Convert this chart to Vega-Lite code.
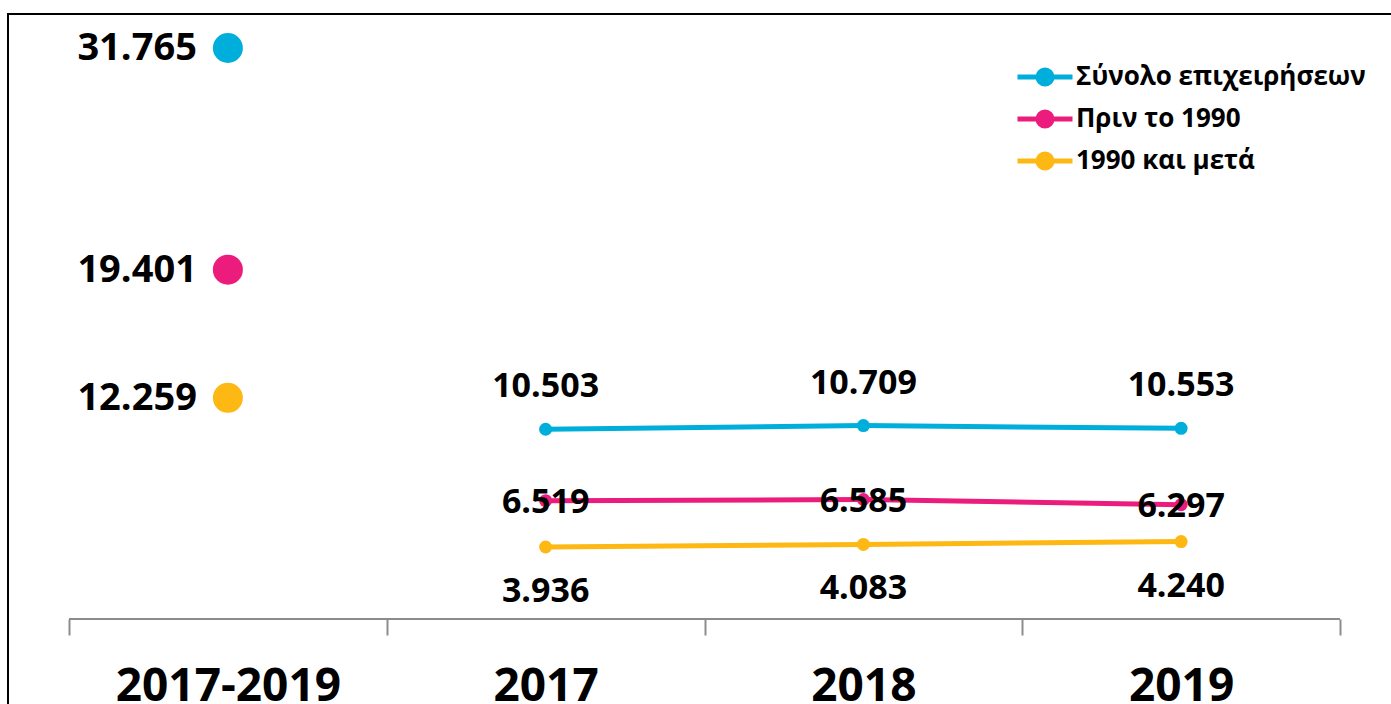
{
  "$schema": "https://vega.github.io/schema/vega-lite/v6.json",
  "width": 1393,
  "height": 706,
  "padding": {"left": 8, "top": 14, "right": 0, "bottom": 0},
  "autosize": {"type": "none"},
  "background": "white",
  "config": {
    "locale": {"number": {"decimal": ",", "thousands": ".", "grouping": [3], "currency": ["", " €"]}},
    "font": "Open Sans",
    "view": {"stroke": "black", "strokeWidth": 2}
  },
  "data": {
    "values": [
      {"period": "2017-2019", "series": "Σύνολο επιχειρήσεων", "value": 31765},
      {"period": "2017-2019", "series": "Πριν το 1990", "value": 19401},
      {"period": "2017-2019", "series": "1990 και μετά", "value": 12259},
      {"period": "2017", "series": "Σύνολο επιχειρήσεων", "value": 10503},
      {"period": "2018", "series": "Σύνολο επιχειρήσεων", "value": 10709},
      {"period": "2019", "series": "Σύνολο επιχειρήσεων", "value": 10553},
      {"period": "2017", "series": "Πριν το 1990", "value": 6519},
      {"period": "2018", "series": "Πριν το 1990", "value": 6585},
      {"period": "2019", "series": "Πριν το 1990", "value": 6297},
      {"period": "2017", "series": "1990 και μετά", "value": 3936},
      {"period": "2018", "series": "1990 και μετά", "value": 4083},
      {"period": "2019", "series": "1990 και μετά", "value": 4240}
    ]
  },
  "encoding": {
    "x": {
      "field": "period",
      "type": "nominal",
      "sort": ["2017-2019", "2017", "2018", "2019"],
      "scale": {"type": "band", "paddingInner": 0, "paddingOuter": 0.192},
      "axis": {
        "title": null,
        "labelAngle": 0,
        "labelFontSize": 46,
        "labelFontWeight": "bold",
        "labelColor": "black",
        "labelFont": "Open Sans",
        "labelPadding": 29,
        "labelLimit": 500,
        "domain": false,
        "tickColor": "#8c8c8c",
        "tickWidth": 2,
        "tickSize": 16,
        "tickBand": "extent",
        "offset": -101
      }
    },
    "y": {
      "field": "value",
      "type": "quantitative",
      "scale": {"domain": [-5711, 33662], "nice": false, "zero": false},
      "axis": null
    }
  },
  "layer": [
    {
      "mark": {"type": "rule", "color": "#8c8c8c", "strokeWidth": 2},
      "encoding": {
        "x": {"datum": "2017-2019", "bandPosition": 0},
        "x2": {"datum": "2019", "bandPosition": 1},
        "y": {"datum": -78}
      }
    },
    {
      "transform": [{"filter": "datum.period !== '2017-2019'"}],
      "mark": {"type": "line", "strokeWidth": 5},
      "encoding": {
        "color": {
          "field": "series",
          "type": "nominal",
          "scale": {
            "domain": ["Σύνολο επιχειρήσεων", "Πριν το 1990", "1990 και μετά"],
            "range": ["#00AEDB", "#EC1C7D", "#FDB813"]
          },
          "legend": {
            "orient": "none",
            "legendX": 1024,
            "legendY": 50,
            "title": null,
            "symbolType": "M-3.93,0L3.93,0M-1,0A1,1,0,1,1,1,0A1,1,0,1,1,-1,0Z",
            "symbolSize": 196,
            "symbolStrokeWidth": 5,
            "labelFontSize": 26,
            "labelFont": "Open Sans",
            "labelFontWeight": "bold",
            "labelColor": "black",
            "labelOffset": 18,
            "rowPadding": 8,
            "padding": 0,
            "labelLimit": 400
          }
        }
      }
    },
    {
      "transform": [{"filter": "datum.period !== '2017-2019'"}],
      "mark": {"type": "point", "filled": true, "size": 169, "opacity": 1},
      "encoding": {"color": {"field": "series", "type": "nominal"}}
    },
    {
      "transform": [{"filter": "datum.period === '2017-2019'"}],
      "mark": {"type": "point", "filled": true, "size": 900, "opacity": 1},
      "encoding": {"color": {"field": "series", "type": "nominal"}}
    },
    {
      "transform": [{"filter": "datum.period !== '2017-2019' && datum.series === 'Σύνολο επιχειρήσεων'"}],
      "mark": {"type": "text", "fontSize": 34, "fontWeight": "bold", "align": "center", "baseline": "middle", "dy": -42, "color": "black"},
      "encoding": {"text": {"field": "value", "type": "quantitative", "format": ",d"}}
    },
    {
      "transform": [{"filter": "datum.period !== '2017-2019' && datum.series === 'Πριν το 1990'"}],
      "mark": {"type": "text", "fontSize": 34, "fontWeight": "bold", "align": "center", "baseline": "middle", "dy": 2, "color": "black"},
      "encoding": {"text": {"field": "value", "type": "quantitative", "format": ",d"}}
    },
    {
      "transform": [{"filter": "datum.period !== '2017-2019' && datum.series === '1990 και μετά'"}],
      "mark": {"type": "text", "fontSize": 34, "fontWeight": "bold", "align": "center", "baseline": "middle", "dy": 45, "color": "black"},
      "encoding": {"text": {"field": "value", "type": "quantitative", "format": ",d"}}
    },
    {
      "transform": [{"filter": "datum.period === '2017-2019'"}],
      "mark": {"type": "text", "fontSize": 38, "fontWeight": "bold", "align": "right", "baseline": "middle", "dx": -31, "dy": 1, "color": "black"},
      "encoding": {"text": {"field": "value", "type": "quantitative", "format": ",d"}}
    }
  ]
}
